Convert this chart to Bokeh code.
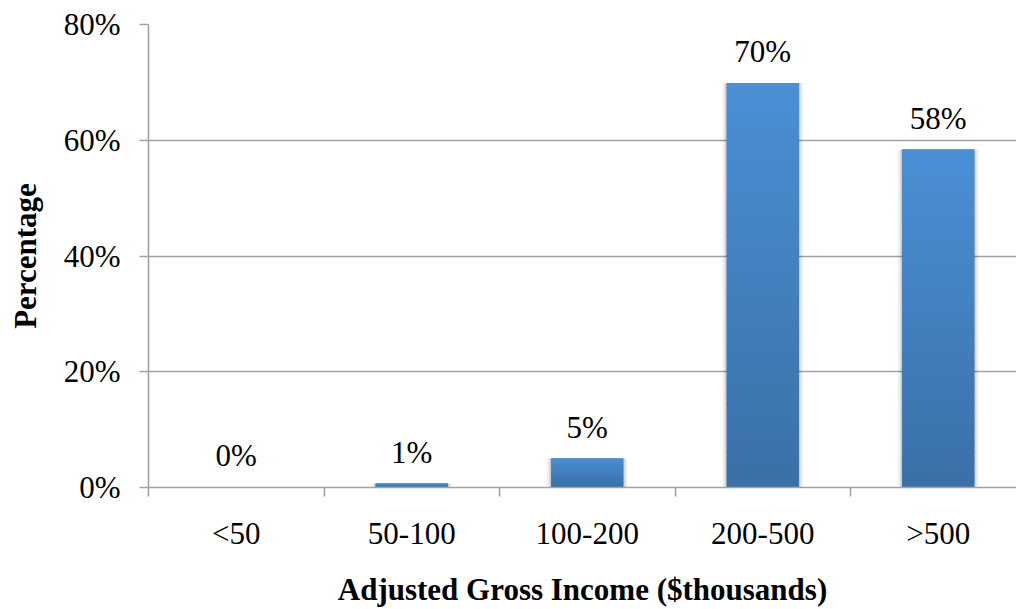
from bokeh.plotting import figure
from bokeh.models import Range1d, FixedTicker, ColumnDataSource
from bokeh.core.properties import value
from bokeh.embed import file_html
from bokeh.resources import INLINE

# Share of filers by adjusted gross income bracket
categories = ["<50", "50-100", "100-200", "200-500", ">500"]
percentages = [0.1, 0.7, 5.0, 69.9, 58.4]
y_ticks = [0, 20, 40, 60, 80]
y_tick_labels = ["0%", "20%", "40%", "60%", "80%"]

FONT = "Liberation Serif"
TOP_COLOR = (74, 144, 212)
BOTTOM_COLOR = (58, 112, 168)
GRID = "#A2A2A2"

centers = list(range(1, len(categories) + 1))
bounds = [c - 0.5 for c in centers] + [centers[-1] + 0.5]

p = figure(
    width=1016, height=609,
    x_range=Range1d(0.5, 0.5 + 868 / 175.5),
    y_range=Range1d(0, 80),
    output_backend="svg", toolbar_location=None,
    min_border_left=148, min_border_right=0,
    min_border_top=24, min_border_bottom=121,
)
p.outline_line_color = None
p.background_fill_color = "white"
p.border_fill_color = "white"

# Grid
p.xgrid.visible = False
p.ygrid.grid_line_color = GRID
p.ygrid.grid_line_width = 1.6
p.ygrid.ticker = FixedTicker(ticks=y_ticks)

# Y axis
ya = p.yaxis[0]
ya.ticker = FixedTicker(ticks=y_ticks)
ya.major_label_overrides = {t: s for t, s in zip(y_ticks, y_tick_labels)}
ya.axis_line_color = GRID
ya.axis_line_width = 1.6
ya.major_tick_line_color = GRID
ya.major_tick_line_width = 1.6
ya.major_tick_out = 9
ya.major_tick_in = 0
ya.minor_tick_line_color = None
ya.major_label_text_font = FONT
ya.major_label_text_font_size = "31px"
ya.major_label_text_color = "black"
ya.major_label_standoff = 19
ya.axis_label = "Percentage"
ya.axis_label_text_font = FONT
ya.axis_label_text_font_size = "31px"
ya.axis_label_text_font_style = "bold"
ya.axis_label_text_color = "black"
ya.axis_label_standoff = 18

# X axis: labels at bar centres, tick marks at category boundaries
xa = p.xaxis[0]
xa.ticker = FixedTicker(ticks=centers, minor_ticks=bounds)
xa.major_label_overrides = {c: s for c, s in zip(centers, categories)}
xa.axis_line_color = GRID
xa.axis_line_width = 1.6
xa.major_tick_line_color = None
xa.minor_tick_line_color = GRID
xa.minor_tick_line_width = 1.6
xa.minor_tick_out = 9
xa.minor_tick_in = 0
xa.major_tick_out = 9
xa.major_label_text_font = FONT
xa.major_label_text_font_size = "31px"
xa.major_label_text_color = "black"
xa.major_label_standoff = 19
xa.axis_label = "Adjusted Gross Income ($thousands)"
xa.axis_label_text_font = FONT
xa.axis_label_text_font_size = "31px"
xa.axis_label_text_font_style = "bold"
xa.axis_label_text_color = "black"
xa.axis_label_standoff = 18

BAR_W = 0.41

# Soft shadow around each bar
for extra, alpha in [(0.05, 0.05), (0.03, 0.07), (0.015, 0.09)]:
    p.vbar(x=centers, top=percentages, width=BAR_W + extra, bottom=0,
           fill_color="#000000", fill_alpha=alpha, line_color=None)

# Bars with a vertical gradient, built as thin horizontal slices
N = 60
left, right, bot, top, cols = [], [], [], [], []
for c, v in zip(centers, percentages):
    for k in range(N):
        f = k / (N - 1)
        r = round(BOTTOM_COLOR[0] + (TOP_COLOR[0] - BOTTOM_COLOR[0]) * f)
        g = round(BOTTOM_COLOR[1] + (TOP_COLOR[1] - BOTTOM_COLOR[1]) * f)
        b = round(BOTTOM_COLOR[2] + (TOP_COLOR[2] - BOTTOM_COLOR[2]) * f)
        left.append(c - BAR_W / 2)
        right.append(c + BAR_W / 2)
        bot.append(v * k / N)
        top.append(min(v, v * (k + 1.6) / N))
        cols.append("#%02x%02x%02x" % (r, g, b))
p.vbar(x=centers, top=percentages, width=BAR_W, bottom=0,
       fill_color="#%02x%02x%02x" % BOTTOM_COLOR, line_color=None)
p.quad(left=left, right=right, bottom=bot, top=top,
       fill_color=cols, line_color=None)

# Value labels above bars
labels = ["%d%%" % round(v) for v in percentages]
src = ColumnDataSource(dict(x=centers, y=percentages, t=labels))
p.text(x="x", y="y", text="t", source=src,
       text_font=value(FONT), text_font_size="31px", text_color="black",
       text_align="center", text_baseline="alphabetic", y_offset=-31)

open("out.html", "w").write(file_html(p, INLINE))
